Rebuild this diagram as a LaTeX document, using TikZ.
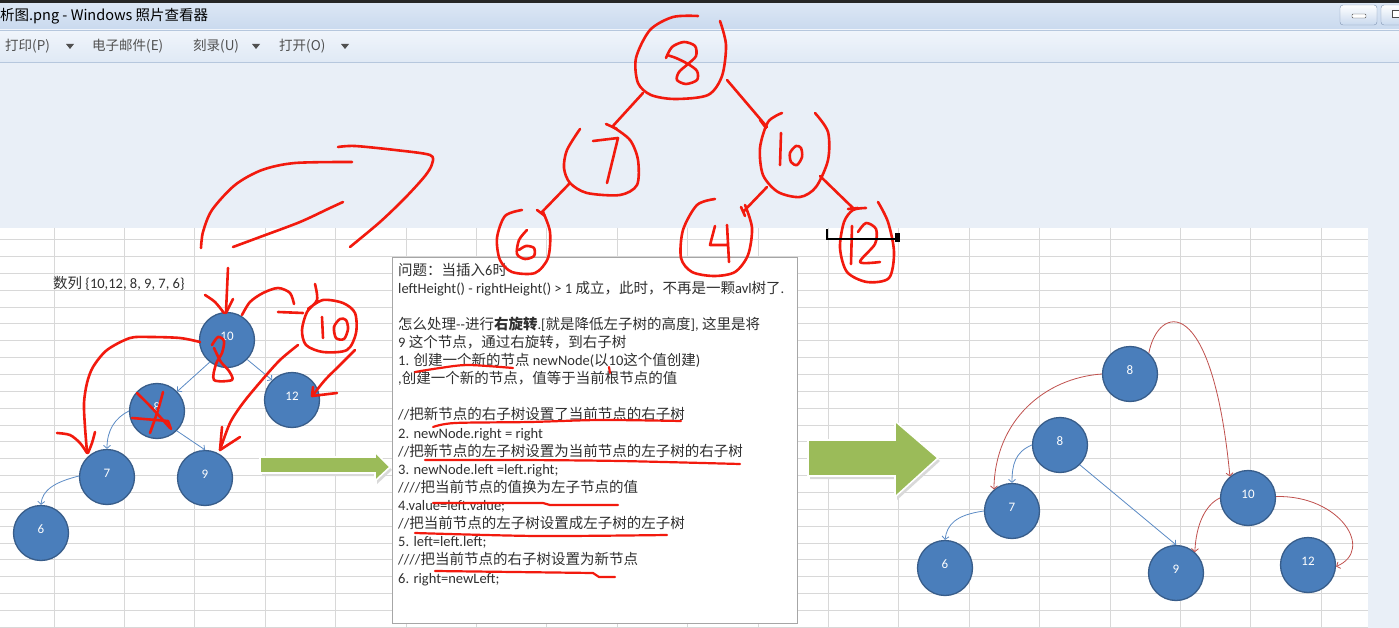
\documentclass[tikz,border=0pt]{standalone}
\usepackage{fontspec}
\setmainfont{Carlito}
\newfontfamily\cjk{Noto Sans CJK SC}
\usetikzlibrary{arrows.meta}
\definecolor{tbtop}{HTML}{DCE7F5}
\definecolor{tbbot}{HTML}{C9D9EE}
\definecolor{mbtop}{HTML}{F0F5FB}
\definecolor{mbbot}{HTML}{E0E9F5}
\definecolor{mbline}{HTML}{B6C7DD}
\definecolor{bgblue}{HTML}{E9EFF7}
\definecolor{gridgray}{HTML}{D8D8D8}
\definecolor{boxgray}{HTML}{A6A6A6}
\definecolor{nodefill}{HTML}{4A7EBB}
\definecolor{nodeedge}{HTML}{385D8A}
\definecolor{arrblue}{HTML}{5B8BC5}
\definecolor{arrred}{HTML}{C0504D}
\definecolor{blockgreen}{HTML}{9BBB59}
\definecolor{penred}{HTML}{F21A0E}
\definecolor{menugray}{HTML}{505050}
\definecolor{codegray}{HTML}{303030}
\definecolor{btnedge}{HTML}{8296B4}
\newcommand\zh[1]{{\cjk\fontsize{14.5}{18}\selectfont #1}}

\begin{document}
\begin{tikzpicture}[x=1pt, y=-1pt,
    bubble/.style={circle, draw=nodeedge, fill=nodefill, line width=1.3pt, minimum size=55pt, inner sep=0pt, text=white, text height=8pt, text depth=8pt, font=\fontsize{13}{13}\selectfont},
    bluearr/.style={-{Straight Barb[length=3pt,width=7pt]}, draw=arrblue, line width=0.8pt},
    redarr/.style={-{Straight Barb[length=3pt,width=7pt]}, draw=arrred, line width=0.8pt},
    scrib/.style={draw=penred, line width=2.6pt, line cap=round, line join=round},
    menuitem/.style={anchor=base west, inner sep=0pt, text=menugray, font=\cjk\fontsize{13.5}{14}\selectfont},
    textline/.style={anchor=base west, inner sep=0pt, text=codegray, font=\fontsize{14.5}{18}\selectfont},
    gridline/.style={draw=gridgray, line width=0.8pt},
    block/.style={fill=blockgreen, draw=white, line width=1.6pt}
  ]
  \useasboundingbox (0,0) rectangle (1399,628);
  \fill[bgblue] (0,0) rectangle (1399,628);
  \shade[top color=tbtop, bottom color=tbbot] (0,3) rectangle (1399,30);
  \fill[black!85] (0,0) rectangle (1399,3);
  \shade[top color=mbtop, bottom color=mbbot] (0,30) rectangle (1399,62);
  \draw[mbline] (0,30.5) -- (1399,30.5);
  \draw[mbline] (0,62) -- (1399,62);
  \draw[btnedge, rounded corners=3pt, top color=white, bottom color=tbbot] (1340,5) rectangle (1377,25);
  \draw[gray!60!black, fill=white, rounded corners=1pt] (1352,14) rectangle (1366,18);
  \draw[btnedge, rounded corners=3pt, top color=white, bottom color=tbbot] (1381,5) rectangle (1410,25);
  \draw[gray!60!black, fill=white] (1392,10) rectangle (1400,17);
  \node[anchor=base west, inner sep=0pt, font=\cjk\fontsize{14.5}{15}\selectfont] (title) at (0,20.5) {析图.png - Windows 照片查看器};
  \node[menuitem] (mprint) at (5,51) {打印(P)};
  \node[menuitem] (mmail) at (92,51) {电子邮件(E)};
  \node[menuitem] (mburn) at (193,51) {刻录(U)};
  \node[menuitem] (mopen) at (279,51) {打开(O)};
  \foreach \tx in {70,256,345}
    \fill[menugray] (\tx-4,44) -- (\tx+4,44) -- (\tx,49) -- cycle;

  \fill[white] (0,228) rectangle (1368,628);
  \foreach \k in {0,...,18}
    \draw[gridline] (54+70.4*\k,228) -- (54+70.4*\k,628);
  \foreach \k in {0,...,23}
    \draw[gridline] (0,239.6+16.85*\k) -- (1368,239.6+16.85*\k);

  \draw[boxgray, fill=white] (392,257) rectangle (797,623);
  \foreach \txt [count=\i from 0] in {
      {\zh{问题：当插入}6\zh{时}},
      {leftHeight() - rightHeight() > 1 \zh{成立，此时，不再是一颗}avl\zh{树了}.},
      {},
      {\zh{怎么处理}-{}-\zh{进行\textbf{右旋转}}.[\zh{就是降低左子树的高度}], \zh{这里是将}},
      {9 \zh{这个节点，通过右旋转，到右子树}},
      {1. \zh{创建一个新的节点} newNode(\zh{以}10\zh{这个值创建})},
      {,\zh{创建一个新的节点，值等于当前根节点的值}},
      {},
      {//\zh{把新节点的右子树设置了当前节点的右子树}},
      {2. newNode.right = right},
      {//\zh{把新节点的左子树设置为当前节点的左子树的右子树}},
      {3. newNode.left =left.right;},
      {////\zh{把当前节点的值换为左子节点的值}},
      {4.value=left.value;},
      {//\zh{把当前节点的左子树设置成左子树的左子树}},
      {5. left=left.left;},
      {////\zh{把当前节点的右子树设置为新节点}},
      {6. right=newLeft;}}
    \node[textline] (ln\i) at (398,275+18.12*\i) {\txt};

  \node[textline] (seq) at (53,288) {\zh{数列} \{10,12, 8, 9, 7, 6\}};

  \node[bubble] (l10) at (227,340) {10};
  \node[bubble] (l12) at (292,400) {12};
  \node[bubble] (l8) at (157,411) {8};
  \node[bubble] (l7) at (107,477) {7};
  \node[bubble] (l9) at (205,478) {9};
  \node[bubble] (l6) at (41,533) {6};
  \draw[bluearr] (l10.232) -- (l8.44);
  \draw[bluearr] (l10.-44) -- (l12.135);
  \draw[bluearr] (l8.180) .. controls (115,418) and (107,430) .. (l7.90);
  \draw[bluearr] (l8.-45) -- (l9.90);
  \draw[bluearr] (l7.178) .. controls (55,482) and (42,490) .. (l6.90);

  \node[bubble] (r8a) at (1130,374) {8};
  \node[bubble] (r8b) at (1060,445) {8};
  \node[bubble] (r7) at (1012,511) {7};
  \node[bubble] (r6) at (945,568) {6};
  \node[bubble] (r9) at (1176,573) {9};
  \node[bubble] (r10) at (1248,498) {10};
  \node[bubble] (r12) at (1308,565) {12};
  \draw[redarr] (r8a.180) .. controls (1045,378) and (995,420) .. (r7.130);
  \draw[redarr] (r8a.48) .. controls (1158,305) and (1212,290) .. (r10.130);
  \draw[redarr] (r10.180) .. controls (1205,505) and (1196,525) .. (r9.48);
  \draw[redarr] (r10.3) .. controls (1340,495) and (1375,550) .. (r12.-3);
  \draw[bluearr] (r8b.180) .. controls (1015,452) and (1012,465) .. (r7.90);
  \draw[bluearr] (r8b.-45) -- (r9.90);
  \draw[bluearr] (r7.180) .. controls (955,515) and (947,525) .. (r6.90);

  \fill[black!15, shift={(2,3)}] (260,457) -- (375,457) -- (375,452) -- (390,467) -- (375,481) -- (375,473) -- (260,473) -- cycle;
  \draw[block] (260,457) -- (375,457) -- (375,452) -- (390,467) -- (375,481) -- (375,473) -- (260,473) -- cycle;
  \fill[black!15, shift={(2,3)}] (808,440) -- (895,440) -- (895,421) -- (938,458) -- (895,497) -- (895,476) -- (808,476) -- cycle;
  \draw[block] (808,440) -- (895,440) -- (895,421) -- (938,458) -- (895,497) -- (895,476) -- (808,476) -- cycle;

  \draw[scrib] plot[smooth] coordinates {(698,16) (673,17) (650,30) (636,58) (638,83) (651,95) (675,99) (708,95) (722,76) (726,45) (720,21)};
  \draw[scrib] plot[smooth] coordinates {(666,58) (672,47) (684,42) (695,46) (696,56) (688,64) (679,72) (677,80) (686,84) (697,80) (697,71) (688,64) (676,58) (667,55)};
  \draw[scrib] (643,93) -- (612,127) (606,124) -- (617,129);
  \draw[scrib] plot[smooth] coordinates {(580,129) (567,150) (564,168) (570,183) (587,193) (620,195) (637,185) (638,160) (630,140) (613,127)};
  \draw[scrib] (593,141) -- (618,138) -- (607,183);
  \draw[scrib] (570,183) -- (541,213) (537,210) -- (545,216);
  \draw[scrib] plot[smooth] coordinates {(522,210) (505,216) (497,238) (500,260) (512,272) (535,273) (548,258) (550,232) (543,212)};
  \draw[scrib] plot[smooth] coordinates {(527,230) (519,240) (517,254) (525,259) (534,256) (534,248) (526,246) (519,250)};
  \draw[scrib] (727,80) -- (767,127) (760,120) -- (766,128);
  \draw[scrib] plot[smooth] coordinates {(782,113) (768,122) (760,148) (763,175) (778,192) (800,197) (816,187) (828,160) (828,132) (815,113)};
  \draw[scrib] (781,133) -- (780,165);
  \draw[scrib] plot[smooth cycle] coordinates {(796,146) (790,153) (791,162) (797,165) (802,157) (801,148)};
  \draw[scrib] (767,187) -- (743,212) (741,207) -- (745,216);
  \draw[scrib] plot[smooth] coordinates {(715,199) (697,205) (683,230) (681,258) (692,272) (714,276) (735,272) (748,255) (752,228) (745,205)};
  \draw[scrib] (715,226) -- (710,245) -- (728,245) (727,225) -- (729,262);
  \draw[scrib] (820,176) -- (853,208) (848,209) -- (858,208);
  \draw[scrib] plot[smooth] coordinates {(866,208) (853,210) (844,222) (840,248) (847,272) (867,282) (889,278) (894,252) (888,222) (878,202)};
  \draw[scrib] (852,226) -- (851,264);
  \draw[scrib] plot[smooth] coordinates {(858,232) (866,223) (876,229) (875,244) (860,262) (880,262)};
  \draw[black, line width=2.4pt] (827,229) |- (895,239);
  \fill[black] (895,233) rectangle (900,242);

  \draw[scrib] plot[smooth] coordinates {(201,248) (203,232) (212,210) (235,185) (262,170) (295,163) (352,162)};
  \draw[scrib] plot[smooth] coordinates {(233,247) (260,237) (300,222) (330,208) (343,202)};
  \draw[scrib] plot[smooth] coordinates {(338,147) (355,146) (395,150) (430,155) (432,164) (425,176) (405,198) (380,222) (350,247)};
  \draw[scrib] (228,268) -- (226,312);
  \draw[scrib] plot[smooth] coordinates {(205,295) (215,302) (224,313)};
  \draw[scrib] (233,299) -- (226,313);
  \draw[scrib] plot[smooth] coordinates {(242,315) (250,302) (263,293) (278,288) (290,293) (294,304)};
  \draw[scrib] (278,312) -- (303,313);
  \draw[scrib] plot[smooth] coordinates {(315,284) (317,300) (307,312) (302,330) (306,345) (323,352) (347,350) (356,333) (355,313) (343,303) (323,300) (308,309)};
  \draw[scrib] (322,317) -- (323,338);
  \draw[scrib] plot[smooth cycle] coordinates {(340,319) (334,327) (336,338) (344,339) (348,329) (346,320)};
  \draw[scrib] plot[smooth] coordinates {(355,350) (340,365) (325,380) (313,395)};
  \draw[scrib] (313,387) -- (312,396) -- (337,393);
  \draw[scrib] plot[smooth] coordinates {(298,345) (280,360) (262,380) (243,403) (230,423) (220,450)};
  \draw[scrib] (222,427) -- (220,450) -- (240,437);
  \draw[scrib] plot[smooth] coordinates {(212,345) (218,337) (224,341) (222,353) (216,364) (214,380) (232,380) (229,371) (221,362) (214,348)};
  \draw[scrib] plot[smooth] coordinates {(200,342) (180,338) (150,337) (130,338) (107,350) (93,367) (87,383) (84,403) (85,427) (87,452)};
  \draw[scrib] plot[smooth] coordinates {(57,433) (70,435) (80,443) (87,453)};
  \draw[scrib] plot[smooth] coordinates {(95,432) (92,443) (88,453)};
  \draw[scrib] plot[smooth] coordinates {(137,393) (152,408) (170,428)};
  \draw[scrib] plot[smooth] coordinates {(163,392) (158,410) (150,433)};
  \draw[scrib] (132,418) -- (168,421) -- (171,429);

  \draw[scrib, line width=2.2pt] plot[smooth] coordinates {(415,372) (440,368) (468,365) (513,368)};
  \draw[scrib, line width=2.2pt] (609,367) -- (610,373);
  \draw[scrib, line width=2.2pt] plot[smooth] coordinates {(433,427) (455,423) (530,422) (600,420) (681,421)};
  \draw[scrib, line width=2.2pt] plot[smooth] coordinates {(425,460) (520,460) (620,461) (740,464)};
  \draw[scrib, line width=2.2pt] (433,503) -- (543,503) -- (550,505) -- (618,505);
  \draw[scrib, line width=2.2pt] plot[smooth] coordinates {(415,533) (537,536) (667,535)};
  \draw[scrib, line width=2.2pt] (435,571) -- (593,573) -- (599,577) -- (615,577);
\end{tikzpicture}
\end{document}
